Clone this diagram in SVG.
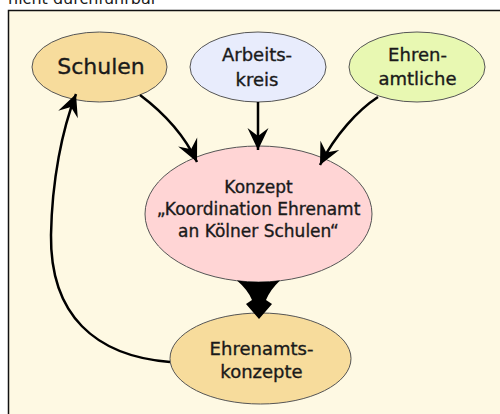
<svg xmlns="http://www.w3.org/2000/svg" width="500" height="414" viewBox="0 0 500 414">
<defs>
<style>
.n{stroke:#555;stroke-width:1}
.t{font-family:"DejaVu Sans",sans-serif;fill:#1a1a1a;text-anchor:middle;stroke:#1a1a1a;stroke-width:0.35}
.e{fill:none;stroke:#000;stroke-width:2.5}
</style>
<marker id="ah" markerUnits="userSpaceOnUse" markerWidth="26" markerHeight="26" viewBox="-23 -13 26 26" refX="0" refY="0" orient="auto">
<path d="M0,0 L-22,-10.5 L-14,0 L-22,10.5 Z" fill="#000"/>
</marker>
</defs>
<text x="8" y="4" style="font-family:'DejaVu Sans',sans-serif;font-size:16px;fill:#1a1a1a">nicht durchführbar</text>
<rect x="8.5" y="10.5" width="520" height="430" fill="#fef9e3" stroke="#111" stroke-width="1.5"/>
<g id="schulen">
<ellipse class="n" cx="99.5" cy="67" rx="67.5" ry="35" fill="#f7dc9c"/>
<text class="t" x="101" y="74" font-size="22">Schulen</text>
</g>
<g id="arbeitskreis">
<ellipse class="n" cx="258" cy="67" rx="68" ry="35" fill="#e8ecfc"/>
<text class="t" x="257" y="61" font-size="18">Arbeits-</text>
<text class="t" x="257" y="86" font-size="18">kreis</text>
</g>
<g id="ehrenamtliche">
<ellipse class="n" cx="417" cy="67" rx="68" ry="35" fill="#e8f8b2"/>
<text class="t" x="417.5" y="61" font-size="18">Ehren-</text>
<text class="t" x="417.5" y="85" font-size="18">amtliche</text>
</g>
<g id="konzept">
<ellipse class="n" cx="258.5" cy="214" rx="113.5" ry="68" fill="#ffd5d5"/>
<text class="t" x="258.5" y="193" font-size="17">Konzept</text>
<text class="t" x="258.5" y="215" font-size="17">„Koordination Ehrenamt</text>
<text class="t" x="258.5" y="237" font-size="17">an Kölner Schulen“</text>
</g>
<g id="ehrenamtskonzepte">
<ellipse class="n" cx="260.5" cy="358.5" rx="90.5" ry="45.5" fill="#f7dc9c"/>
<text class="t" x="261.5" y="355" font-size="18">Ehrenamts-</text>
<text class="t" x="261.5" y="378" font-size="18">konzepte</text>
</g>
<g id="connectors">
<path class="e" d="M140,95 C160,110 182,130 197,162" marker-end="url(#ah)"/>
<path class="e" d="M258,102 L258,150" marker-end="url(#ah)"/>
<path class="e" d="M378,97 C358,110 335,135 320,165" marker-end="url(#ah)"/>
<path class="e" d="M170,362 C95,356 50,315 51,235 C52,180 62,130 76,94" marker-end="url(#ah)"/>
<path d="M237,280.5 Q258.5,283.5 280,280.5 Q270,290 266,300 L272,304 L259,319 L246,304 L252,300 Q248,290 237,280.5 Z" fill="#000"/>
</g>
</svg>
